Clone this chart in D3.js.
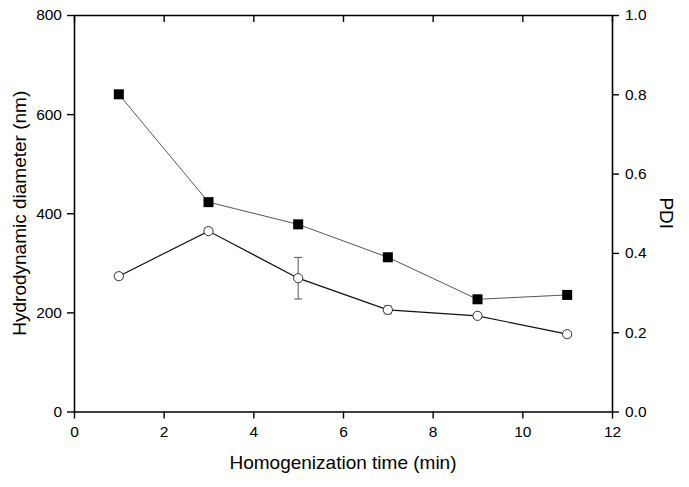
<!DOCTYPE html>
<html><head><meta charset="utf-8">
<script src="https://cdn.jsdelivr.net/npm/d3@7"></script>
<style>body{margin:0;background:#fff}svg{display:block}text{font-family:"Liberation Sans",Arial,sans-serif;fill:#000}</style>
</head><body><svg id="c" width="689" height="487"></svg>
<script>
const times = [1, 3, 5, 7, 9, 11];
const diameter = [273, 364, 269, 205, 193, 156];
const diameterErr = [6, 6, 42, 8, 5, 5];
const pdi = [0.80, 0.528, 0.472, 0.389, 0.283, 0.294];
const xTicks = [0, 2, 4, 6, 8, 10, 12];
const yLeftTicks = [0, 200, 400, 600, 800];
const yRightTicks = [0.0, 0.2, 0.4, 0.6, 0.8, 1.0];

const svg = d3.select("#c");
const L = 74, R = 612, T = 15, B = 411.5;
const x = d3.scaleLinear().domain([0, 12]).range([L, R]);
const yL = d3.scaleLinear().domain([0, 800]).range([B, T]);
const yR = d3.scaleLinear().domain([0, 1]).range([B, T]);

function styleAxis(g){
  g.select(".domain").attr("stroke","#000").attr("stroke-width",1.6);
  g.selectAll(".tick line").attr("stroke","#000").attr("stroke-width",1.4);
  g.selectAll(".tick text").attr("font-size",15.5).attr("font-family","Liberation Sans, Arial, sans-serif").attr("fill","#000");
}
styleAxis(svg.append("g").attr("transform",`translate(0,${B})`)
  .call(d3.axisBottom(x).tickValues(xTicks).tickFormat(d3.format("d")).tickSize(7).tickSizeOuter(0).tickPadding(7)));
styleAxis(svg.append("g").attr("transform",`translate(0,${T})`)
  .call(d3.axisBottom(x).tickValues(xTicks).tickFormat("").tickSize(7).tickSizeOuter(0)));
styleAxis(svg.append("g").attr("transform",`translate(${L},0)`)
  .call(d3.axisLeft(yL).tickValues(yLeftTicks).tickFormat(d3.format("d")).tickSize(7).tickSizeOuter(0).tickPadding(5)));
styleAxis(svg.append("g").attr("transform",`translate(${R},0)`)
  .call(d3.axisRight(yR).tickValues(yRightTicks).tickFormat(d3.format(".1f")).tickSize(7).tickSizeOuter(0).tickPadding(6)));

// PDI line (thin grey)
svg.append("path").datum(times.map((t,i)=>[t,pdi[i]]))
  .attr("fill","none").attr("stroke","#444").attr("stroke-width",0.9)
  .attr("d", d3.line().x(d=>x(d[0])).y(d=>yR(d[1])));
// Diameter line
svg.append("path").datum(times.map((t,i)=>[t,diameter[i]]))
  .attr("fill","none").attr("stroke","#111").attr("stroke-width",1.2)
  .attr("d", d3.line().x(d=>x(d[0])).y(d=>yL(d[1])));
// error bars
const eb = svg.append("g").attr("stroke","#555").attr("stroke-width",1);
times.forEach((t,i)=>{
  const cx = x(t), y1 = yL(diameter[i]-diameterErr[i]), y2 = yL(diameter[i]+diameterErr[i]);
  eb.append("line").attr("x1",cx).attr("x2",cx).attr("y1",y1).attr("y2",y2);
  eb.append("line").attr("x1",cx-4).attr("x2",cx+4).attr("y1",y1).attr("y2",y1);
  eb.append("line").attr("x1",cx-4).attr("x2",cx+4).attr("y1",y2).attr("y2",y2);
});
// circles
svg.append("g").selectAll("circle").data(times).join("circle")
  .attr("cx",d=>x(d)).attr("cy",(d,i)=>yL(diameter[i])).attr("r",4.6)
  .attr("fill","#fff").attr("stroke","#333").attr("stroke-width",1);
// squares
svg.append("g").selectAll("rect").data(times).join("rect")
  .attr("x",d=>x(d)-5).attr("y",(d,i)=>yR(pdi[i])-5).attr("width",10).attr("height",10)
  .attr("fill","#000");

svg.append("text").attr("x",(L+R)/2).attr("y",469).attr("text-anchor","middle")
  .attr("font-size",19).text("Homogenization time (min)");
svg.append("text").attr("transform",`translate(26,${(T+B)/2}) rotate(-90)`).attr("text-anchor","middle")
  .attr("font-size",19).text("Hydrodynamic diameter (nm)");
svg.append("text").attr("transform",`translate(660,${(T+B)/2}) rotate(90)`).attr("text-anchor","middle")
  .attr("font-size",19).text("PDI");
</script></body></html>
